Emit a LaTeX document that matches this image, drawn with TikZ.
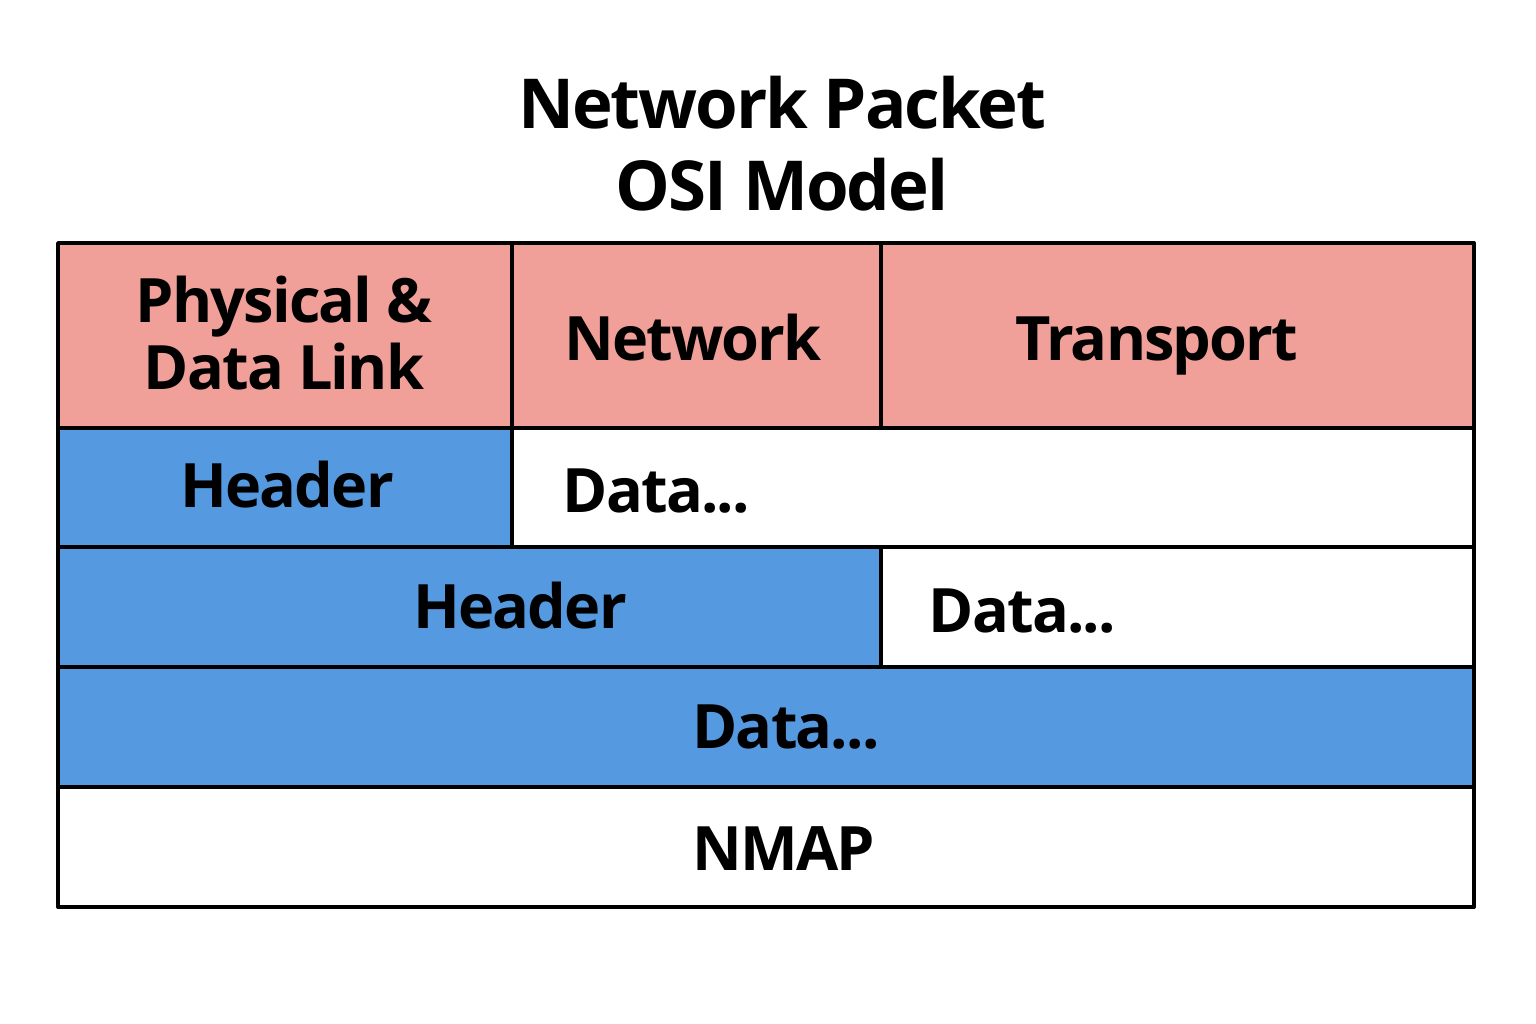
\documentclass[tikz,border=0pt]{standalone}
\usepackage{fontspec}
\setmainfont{Open Sans}[LetterSpace=-3]
\definecolor{layerpink}{HTML}{F0A098}
\definecolor{hdrblue}{HTML}{5599E0}
\begin{document}
\begin{tikzpicture}[x=0.01cm,y=-0.01cm,line join=round,
	cellline/.style={draw=black,line width=1.1pt},
	lbl/.style={inner sep=0pt,font=\fontsize{17.4}{18.8}\selectfont\bfseries,align=center}]
	\useasboundingbox (0,0) rectangle (1536,1024);
	% title
	\node[inner sep=0pt,font=\fontsize{19.6}{23.4}\selectfont\bfseries,align=center] (title) at (782,144) {Network Packet\\OSI Model};
	% layer row
	\filldraw[cellline,fill=layerpink] (58,243) rectangle (512,428);
	\filldraw[cellline,fill=layerpink] (512,243) rectangle (881,428);
	\filldraw[cellline,fill=layerpink] (881,243) rectangle (1474,428);
	% header rows
	\filldraw[cellline,fill=hdrblue] (58,428) rectangle (512,547);
	\filldraw[cellline,fill=white] (512,428) rectangle (1474,547);
	\filldraw[cellline,fill=hdrblue] (58,547) rectangle (881,667);
	\filldraw[cellline,fill=white] (881,547) rectangle (1474,667);
	\filldraw[cellline,fill=hdrblue] (58,667) rectangle (1474,787);
	\filldraw[cellline,fill=white] (58,787) rectangle (1474,907);
	% labels
	\node[lbl] (phys) at (284,333) {Physical \&\\Data Link};
	\node[lbl,anchor=base] (net) at (693,360) {Network};
	\node[lbl,anchor=base] (trans) at (1157,360) {Transport};
	\node[lbl,anchor=base] (hdrA) at (287,507) {Header};
	\node[lbl,anchor=base west] (dataA) at (562,512) {Data...};
	\node[lbl,anchor=base] (hdrB) at (520,628) {Header};
	\node[lbl,anchor=base west] (dataB) at (928,632) {Data...};
	\node[lbl,anchor=base] (dataC) at (786,748) {Data...};
	\node[lbl,anchor=base] (nmap) at (784,870) {NMAP};
\end{tikzpicture}
\end{document}
